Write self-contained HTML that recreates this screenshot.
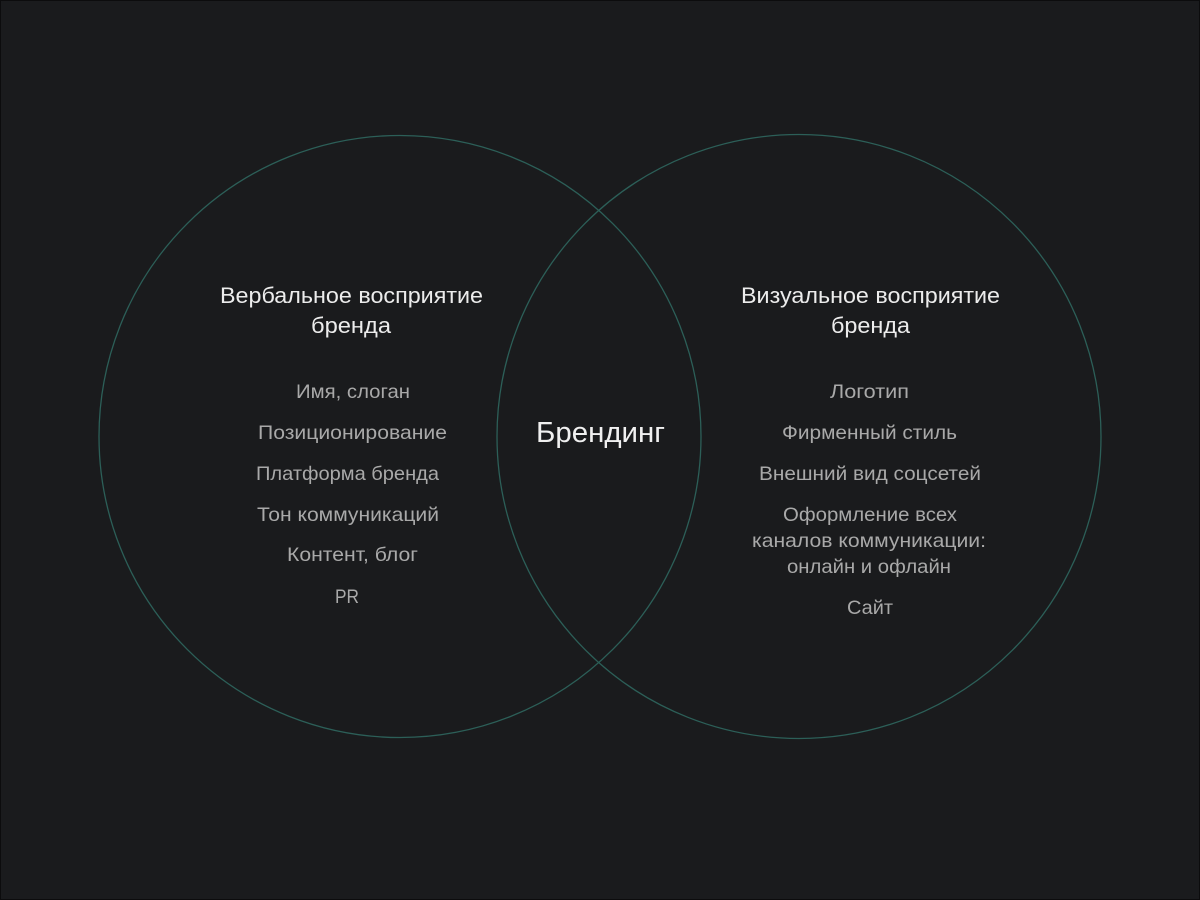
<!DOCTYPE html>
<html><head><meta charset="utf-8"><style>
html,body{margin:0;padding:0;background:#1a1b1d;}
svg{display:block}
text{font-family:"Liberation Sans","DejaVu Sans",sans-serif;text-anchor:middle}
.h{fill:#ececec;font-size:22px}
.i{fill:#a9a9a9;font-size:19.5px}
</style></head><body>
<svg width="1200" height="900" viewBox="0 0 1200 900">
<rect x="0.5" y="0.5" width="1199" height="899" fill="#1a1b1d" stroke="#0c0c0d"/>
<circle cx="400" cy="436.5" r="301" fill="none" stroke="#2c5f58" stroke-width="1.3"/>
<circle cx="799" cy="436.5" r="302" fill="none" stroke="#2c5f58" stroke-width="1.3"/>
<text class="h" x="351.5" y="303" textLength="263" lengthAdjust="spacingAndGlyphs">Вербальное восприятие</text>
<text class="h" x="351" y="333" textLength="80" lengthAdjust="spacingAndGlyphs">бренда</text>
<text class="i" x="353" y="398" textLength="114" lengthAdjust="spacingAndGlyphs">Имя, слоган</text>
<text class="i" x="352.5" y="439" textLength="189" lengthAdjust="spacingAndGlyphs">Позиционирование</text>
<text class="i" x="347.5" y="480" textLength="183" lengthAdjust="spacingAndGlyphs">Платформа бренда</text>
<text class="i" x="348" y="521" textLength="182" lengthAdjust="spacingAndGlyphs">Тон коммуникаций</text>
<text class="i" x="352.5" y="561" textLength="131" lengthAdjust="spacingAndGlyphs">Контент, блог</text>
<text class="i" x="347" y="603" textLength="24" lengthAdjust="spacingAndGlyphs">PR</text>
<text x="600.5" y="442" style="fill:#f0f0f0;font-size:29px" textLength="129" lengthAdjust="spacingAndGlyphs">Брендинг</text>
<text class="h" x="870.5" y="303" textLength="259" lengthAdjust="spacingAndGlyphs">Визуальное восприятие</text>
<text class="h" x="870.5" y="333" textLength="79" lengthAdjust="spacingAndGlyphs">бренда</text>
<text class="i" x="869.5" y="398" textLength="79" lengthAdjust="spacingAndGlyphs">Логотип</text>
<text class="i" x="869.5" y="439" textLength="175" lengthAdjust="spacingAndGlyphs">Фирменный стиль</text>
<text class="i" x="870" y="480" textLength="222" lengthAdjust="spacingAndGlyphs">Внешний вид соцсетей</text>
<text class="i" x="870" y="521" textLength="174" lengthAdjust="spacingAndGlyphs">Оформление всех</text>
<text class="i" x="869" y="547" textLength="234" lengthAdjust="spacingAndGlyphs">каналов коммуникации:</text>
<text class="i" x="869" y="573" textLength="164" lengthAdjust="spacingAndGlyphs">онлайн и офлайн</text>
<text class="i" x="870" y="614" textLength="46" lengthAdjust="spacingAndGlyphs">Сайт</text>
</svg>
</body></html>
